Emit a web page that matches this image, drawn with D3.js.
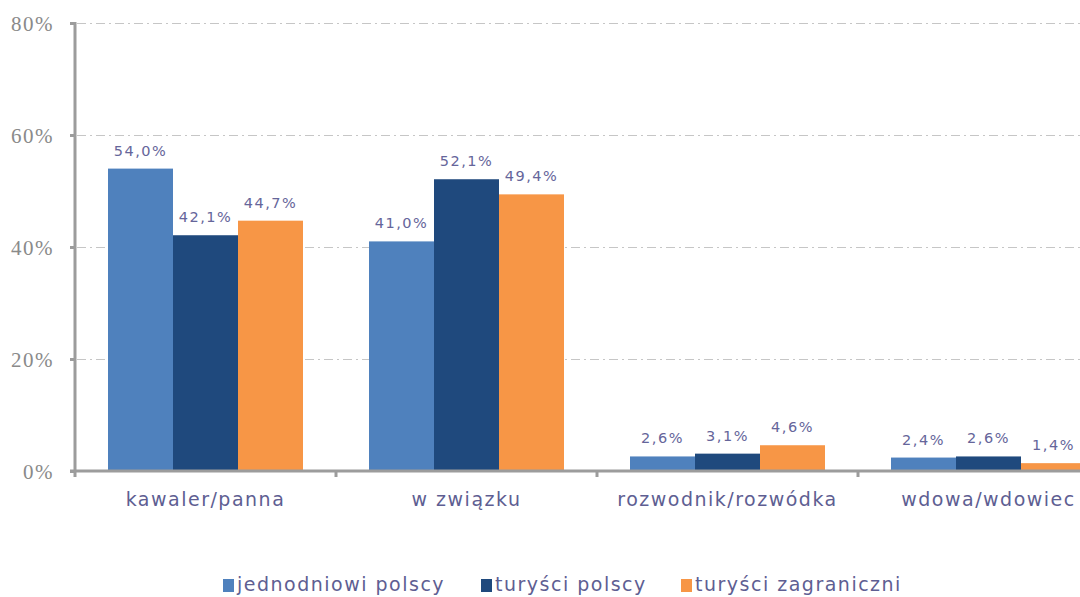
<!doctype html>
<html>
<head>
<meta charset="UTF-8">
<script src="https://d3js.org/d3.v7.min.js"></script>
<style>
  body { margin: 0; background: #fff; }
  svg { display: block; }
</style>
</head>
<body>
<svg id="chart" width="1080" height="597"></svg>
<script>
// data
var categories = ["kawaler/panna", "w związku", "rozwodnik/rozwódka", "wdowa/wdowiec"];
var seriesNames = ["jednodniowi polscy", "turyści polscy", "turyści zagraniczni"];
var jednodniowi = [54.0, 41.0, 2.6, 2.4];
var turysciPolscy = [42.1, 52.1, 3.1, 2.6];
var turysciZagr = [44.7, 49.4, 4.6, 1.4];
var yTicks = [0, 20, 40, 60, 80];
var colors = ["#4f81bd", "#1f497d", "#f79646"];

var series = [jednodniowi, turysciPolscy, turysciZagr];

var svg = d3.select("#chart");
var mLeft = 75, mTop = 23, mBottom = 471;
var bandW = 261;

var x0 = d3.scaleBand().domain(categories)
    .range([mLeft, mLeft + bandW * categories.length]).padding(0);
var x1 = d3.scaleBand().domain(d3.range(series.length))
    .range([33, bandW - 33]).padding(0);
var y = d3.scaleLinear().domain([0, 80]).range([mBottom, mTop]);

// gridlines
svg.append("g").selectAll("line").data(yTicks.filter(function(d){ return d > 0; }))
  .enter().append("line")
  .attr("x1", mLeft + 2).attr("x2", 1080)
  .attr("y1", function(d){ return y(d) + 0.5; })
  .attr("y2", function(d){ return y(d) + 0.5; })
  .attr("stroke", "#c6c6c6").attr("stroke-width", 1)
  .attr("stroke-dasharray", "9,4,2,4");

// bars
var groups = svg.append("g").selectAll("g").data(categories).enter().append("g")
  .attr("transform", function(d){ return "translate(" + x0(d) + ",0)"; });

groups.selectAll("rect").data(function(d, ci){
    return series.map(function(s, si){ return {si: si, v: s[ci]}; });
  }).enter().append("rect")
  .attr("x", function(d){ return x1(d.si); })
  .attr("width", x1.bandwidth())
  .attr("y", function(d){ return y(d.v); })
  .attr("height", function(d){ return mBottom - y(d.v); })
  .attr("fill", function(d){ return colors[d.si]; });

groups.selectAll("text").data(function(d, ci){
    return series.map(function(s, si){ return {si: si, v: s[ci]}; });
  }).enter().append("text")
  .attr("x", function(d){ return x1(d.si) + x1.bandwidth() / 2; })
  .attr("y", function(d){ return y(d.v) - 13; })
  .attr("text-anchor", "middle")
  .attr("font-family", "DejaVu Sans, Verdana, sans-serif")
  .attr("font-size", 14.5)
  .attr("letter-spacing", 1.5)
  .attr("fill", "#65659a")
  .text(function(d){ return d.v.toFixed(1).replace(".", ",") + "%"; });

// y axis
var yAxis = d3.axisLeft(y).tickValues(yTicks).tickSize(5).tickFormat(function(d){ return d + "%"; });
var gy = svg.append("g").attr("transform", "translate(" + mLeft + ",0)").call(yAxis);
gy.select(".domain").attr("stroke", "#9c9c9c").attr("stroke-width", 3)
  .attr("d", "M0," + (mTop - 1) + "V" + (mBottom + 6));
gy.selectAll(".tick line").attr("stroke", "#9c9c9c").attr("stroke-width", 3);
gy.selectAll(".tick text")
  .attr("x", -21)
  .attr("dy", "0.35em")
  .attr("font-family", "Liberation Serif, Times New Roman, serif")
  .attr("font-size", 21)
  .attr("letter-spacing", 1.5)
  .attr("fill", "#8a8a8a");

// x axis
var gx = svg.append("g").attr("transform", "translate(0," + mBottom + ")");
gx.append("line").attr("x1", mLeft - 5).attr("x2", 1080).attr("y1", 0).attr("y2", 0)
  .attr("stroke", "#9c9c9c").attr("stroke-width", 3);
gx.selectAll(".xt").data(categories.slice(1)).enter().append("line")
  .attr("x1", function(d){ return x0(d); }).attr("x2", function(d){ return x0(d); })
  .attr("y1", 0).attr("y2", 6)
  .attr("stroke", "#9c9c9c").attr("stroke-width", 3);
gx.selectAll("text").data(categories).enter().append("text")
  .attr("x", function(d){ return x0(d) + x0.bandwidth() / 2; })
  .attr("y", 35)
  .attr("text-anchor", "middle")
  .attr("font-family", "DejaVu Sans, Verdana, sans-serif")
  .attr("font-size", 19)
  .attr("letter-spacing", 1.5)
  .attr("fill", "#5e5e92")
  .text(function(d){ return d; });

// legend
var legendX = [223, 481, 681];
var lg = svg.append("g").selectAll("g").data(seriesNames).enter().append("g")
  .attr("transform", function(d, i){ return "translate(" + legendX[i] + ",579)"; });
lg.append("rect").attr("width", 11).attr("height", 13)
  .attr("fill", function(d, i){ return colors[i]; });
lg.append("text").attr("x", 14).attr("y", 12)
  .attr("font-family", "DejaVu Sans, Verdana, sans-serif")
  .attr("font-size", 19)
  .attr("letter-spacing", 1.5)
  .attr("fill", "#5e5e92")
  .text(function(d){ return d; });
</script>
</body>
</html>
